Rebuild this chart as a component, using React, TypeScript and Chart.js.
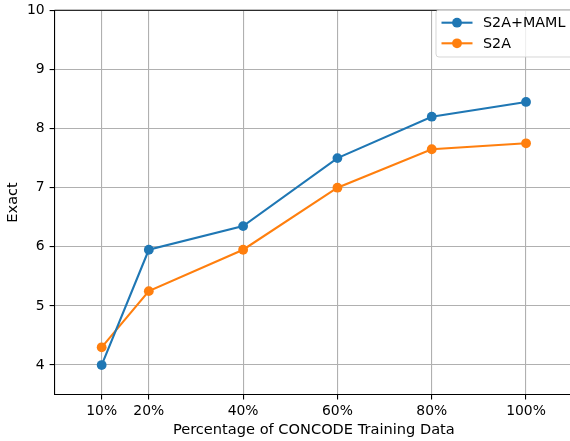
import React, { useEffect, useRef } from "react";
import { Chart, registerables } from "chart.js";

Chart.register(...registerables);

const percentages = [10, 20, 40, 60, 80, 100];
const xTickLabels = ["10%", "20%", "40%", "60%", "80%", "100%"];
const xMin = 0;
const xMax = 110;
const yTickValues = [4, 5, 6, 7, 8, 9, 10];
const s2aMaml = [4.0, 5.95, 6.35, 7.5, 8.2, 8.45];
const s2a = [4.3, 5.25, 5.95, 7.0, 7.65, 7.75];
const seriesNames = ["S2A+MAML", "S2A"];
const seriesColors = ["#1f77b4", "#ff7f0e"];

const FONT = "'DejaVu Sans', sans-serif";

const spinePlugin = {
  id: "spines",
  afterDatasetsDraw(chart: any) {
    const { ctx, chartArea } = chart;
    ctx.save();
    ctx.strokeStyle = "#000";
    ctx.lineWidth = 1.1;
    ctx.beginPath();
    ctx.moveTo(chartArea.left, chartArea.top);
    ctx.lineTo(chartArea.right, chartArea.top);
    ctx.stroke();
    ctx.restore();
  },
};

const legendPlugin = {
  id: "mplLegend",
  afterDraw(chart: any) {
    const { ctx } = chart;
    const x = 436;
    const y = 10;
    const w = 140;
    const h = 47;
    ctx.save();
    ctx.globalAlpha = 0.8;
    ctx.fillStyle = "#fff";
    ctx.strokeStyle = "#cccccc";
    ctx.lineWidth = 1;
    const r = 3;
    ctx.beginPath();
    ctx.moveTo(x + r, y);
    ctx.lineTo(x + w - r, y);
    ctx.arcTo(x + w, y, x + w, y + r, r);
    ctx.lineTo(x + w, y + h - r);
    ctx.arcTo(x + w, y + h, x + w - r, y + h, r);
    ctx.lineTo(x + r, y + h);
    ctx.arcTo(x, y + h, x, y + h - r, r);
    ctx.lineTo(x, y + r);
    ctx.arcTo(x, y, x + r, y, r);
    ctx.closePath();
    ctx.fill();
    ctx.stroke();
    ctx.globalAlpha = 1;
    const rows = [22.7, 43.3];
    seriesNames.forEach((name, i) => {
      const cy = rows[i];
      ctx.strokeStyle = seriesColors[i];
      ctx.lineWidth = 2.1;
      ctx.beginPath();
      ctx.moveTo(441.5, cy);
      ctx.lineTo(472.5, cy);
      ctx.stroke();
      ctx.fillStyle = seriesColors[i];
      ctx.beginPath();
      ctx.arc(457, cy, 4.9, 0, Math.PI * 2);
      ctx.fill();
      ctx.fillStyle = "#000";
      ctx.font = `14.3px ${FONT}`;
      ctx.textBaseline = "middle";
      ctx.textAlign = "left";
      ctx.fillText(name, 483, cy + 0.5);
    });
    ctx.restore();
  },
};

export default function App() {
  const ref = useRef<HTMLCanvasElement | null>(null);

  useEffect(() => {
    if (!ref.current) return;
    const mk = (i: number, values: number[]) => ({
      label: seriesNames[i],
      data: percentages.map((p, k) => ({ x: p, y: values[k] })),
      borderColor: seriesColors[i],
      backgroundColor: seriesColors[i],
      borderWidth: 2.1,
      pointRadius: 4.9,
      pointBorderWidth: 0,
      pointBackgroundColor: seriesColors[i],
      tension: 0,
    });
    const chart = new Chart(ref.current, {
      type: "line",
      data: {
        datasets: [mk(0, s2aMaml), mk(1, s2a)],
      },
      options: {
        responsive: false,
        animation: false,
        layout: { padding: { left: 0, top: 0, right: 26.8, bottom: 0 } },
        plugins: {
          legend: { display: false },
          tooltip: { enabled: false },
        },
        scales: {
          x: {
            type: "linear",
            min: xMin,
            max: xMax,
            afterBuildTicks: (scale: any) => {
              scale.ticks = percentages.map((v) => ({ value: v }));
            },
            afterFit: (scale: any) => {
              scale.height = 46.4;
              scale.paddingLeft = 0;
              scale.paddingRight = 0;
            },
            ticks: {
              autoSkip: false,
              maxRotation: 0,
              padding: 4,
              color: "#000",
              font: { family: FONT, size: 13.9 },
              callback: (_v: any, i: number) => xTickLabels[i],
            },
            grid: {
              color: "#b0b0b0",
              lineWidth: 1.1,
              tickColor: "#000",
              tickLength: 4.9,
            },
            border: { display: true, color: "#000", width: 1.1 },
            title: {
              display: true,
              text: "Percentage of CONCODE Training Data",
              color: "#000",
              font: { family: FONT, size: 14.6 },
              padding: { top: 0, bottom: 2.5 },
            },
          },
          y: {
            type: "linear",
            min: 3.5,
            max: 10,
            afterBuildTicks: (scale: any) => {
              scale.ticks = yTickValues.map((v) => ({ value: v }));
            },
            afterFit: (scale: any) => {
              scale.width = 54.5;
              scale.paddingTop = 10.3;
              scale.paddingBottom = 0;
            },
            ticks: {
              padding: 4.9,
              color: "#000",
              font: { family: FONT, size: 13.9 },
              callback: (v: any) => String(v),
            },
            grid: {
              color: "#b0b0b0",
              lineWidth: 1.1,
              tickColor: "#000",
              tickLength: 4.9,
            },
            border: { display: true, color: "#000", width: 1.1 },
            title: {
              display: true,
              text: "Exact",
              color: "#000",
              font: { family: FONT, size: 14.6 },
              padding: { top: 4.5, bottom: 0 },
            },
          },
        },
      },
      plugins: [spinePlugin, legendPlugin],
    });
    return () => chart.destroy();
  }, []);

  return (
    <div
      style={{
        position: "fixed",
        left: 0,
        top: 0,
        width: 570,
        height: 441,
        overflow: "hidden",
        background: "#fff",
      }}
    >
      <canvas ref={ref} width={600} height={441} style={{ display: "block" }} />
    </div>
  );
}
